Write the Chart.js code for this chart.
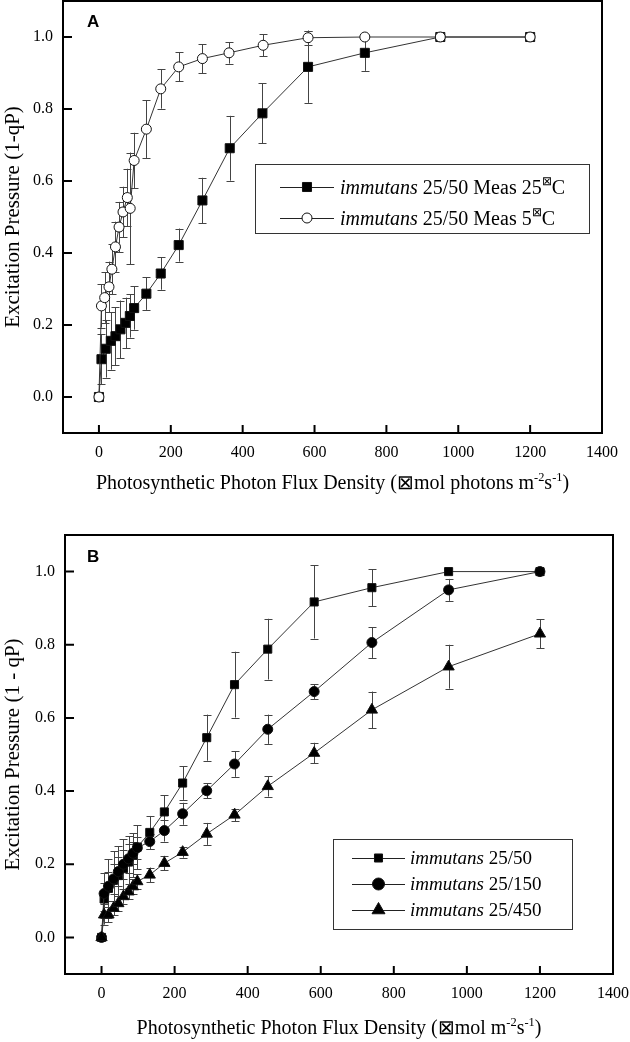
<!DOCTYPE html>
<html><head><meta charset="utf-8">
<script src="https://cdn.jsdelivr.net/npm/chart.js@4.4.1/dist/chart.umd.min.js"></script>
<style>
html,body{margin:0;padding:0;background:#fff;}
body{width:630px;height:1042px;overflow:hidden;position:relative;}
canvas{position:absolute;left:0;}
</style></head>
<body>
<canvas id="chartA" width="630" height="505" style="top:0px"></canvas>
<canvas id="chartB" width="630" height="542" style="top:500px"></canvas>
<script>
const SERIF = '"Liberation Serif", "Times New Roman", serif';
const SANS = '"Liberation Sans", Arial, sans-serif';

// ---- tick labels ----
const xTicks = [0, 200, 400, 600, 800, 1000, 1200, 1400];
const yTicks = [0.0, 0.2, 0.4, 0.6, 0.8, 1.0];

// ---- Panel A ----
const ppfdA25 = [0, 7, 19, 33, 46, 60, 74, 86, 98, 132, 172, 222, 288, 364, 455, 582, 740, 950, 1200];
const meas25 = [0, 0.105, 0.134, 0.156, 0.169, 0.188, 0.206, 0.225, 0.247, 0.287, 0.343, 0.422, 0.546, 0.691, 0.788, 0.917, 0.956, 1.0, 1.0];
const meas25Err = [0, 0.07, 0.08, 0.08, 0.08, 0.08, 0.07, 0.06, 0.06, 0.045, 0.045, 0.046, 0.063, 0.09, 0.083, 0.1, 0.05, 0, 0];
const ppfdA5 = [0, 7, 16, 28, 36, 46, 56, 67, 79, 87, 98, 132, 172, 222, 288, 362, 457, 582, 740, 950, 1200];
const meas5 = [0, 0.253, 0.276, 0.306, 0.355, 0.417, 0.472, 0.514, 0.554, 0.524, 0.657, 0.744, 0.856, 0.917, 0.94, 0.956, 0.977, 0.998, 1.0, 1.0, 1.0];
const meas5Err = [0, 0.06, 0.07, 0.07, 0.07, 0.07, 0.07, 0.07, 0.08, 0.155, 0.077, 0.08, 0.055, 0.04, 0.04, 0.03, 0.03, 0.02, 0, 0, 0];

// ---- Panel B ----
const ppfdB = [0, 7, 19, 33, 46, 60, 74, 86, 98, 132, 172, 222, 288, 364, 455, 582, 740, 950, 1200];
const g50 = [0, 0.105, 0.134, 0.156, 0.169, 0.188, 0.206, 0.225, 0.247, 0.287, 0.343, 0.422, 0.546, 0.691, 0.788, 0.917, 0.956, 1.0, 1.0];
const g50Err = [0, 0.07, 0.08, 0.08, 0.08, 0.08, 0.07, 0.06, 0.06, 0.045, 0.045, 0.046, 0.063, 0.09, 0.083, 0.1, 0.05, 0, 0];
const g150 = [0, 0.12, 0.14, 0.16, 0.18, 0.2, 0.215, 0.23, 0.245, 0.262, 0.292, 0.338, 0.401, 0.474, 0.569, 0.672, 0.806, 0.95, 1.0];
const g150Err = [0, 0.03, 0.04, 0.04, 0.04, 0.04, 0.04, 0.03, 0.03, 0.02, 0.03, 0.03, 0.02, 0.035, 0.04, 0.02, 0.042, 0.03, 0.01];
const g450 = [0, 0.062, 0.062, 0.08, 0.093, 0.112, 0.125, 0.139, 0.153, 0.171, 0.203, 0.233, 0.283, 0.335, 0.413, 0.504, 0.622, 0.74, 0.83];
const g450Err = [0, 0.01, 0.02, 0.02, 0.02, 0.02, 0.02, 0.02, 0.02, 0.02, 0.02, 0.015, 0.03, 0.017, 0.028, 0.028, 0.05, 0.06, 0.04];

function pts(xs, ys) { return xs.map((x, i) => ({ x: x, y: ys[i] })); }

function drawRich(ctx, x, y, segs, size, align) {
  const m = segs.map(s => {
    const fs = s.sup ? size * 0.62 : size;
    ctx.font = (s.it ? 'italic ' : '') + fs + 'px ' + SERIF;
    return { s: s, fs: fs, w: ctx.measureText(s.t).width };
  });
  const total = m.reduce((a, b) => a + b.w, 0);
  let cx = align === 'center' ? x - total / 2 : x;
  ctx.textAlign = 'left';
  ctx.textBaseline = 'alphabetic';
  ctx.fillStyle = '#000';
  m.forEach(o => {
    ctx.font = (o.s.it ? 'italic ' : '') + o.fs + 'px ' + SERIF;
    ctx.fillText(o.s.t, cx, y - (o.s.sup ? size * 0.42 : 0));
    cx += o.w;
  });
}

function marker(ctx, style, x, y, r, fill) {
  ctx.save();
  ctx.fillStyle = fill; ctx.strokeStyle = '#111'; ctx.lineWidth = 1;
  Chart.helpers.drawPoint(ctx, { pointStyle: style, radius: r, rotation: 0, borderWidth: 1 }, x, y);
  ctx.restore();
}

const errorBars = {
  id: 'errorBars',
  beforeDatasetsDraw(chart) {
    const ctx = chart.ctx, xs = chart.scales.x, ys = chart.scales.y;
    ctx.save();
    ctx.strokeStyle = '#444'; ctx.lineWidth = 1;
    chart.data.datasets.forEach(ds => {
      ds.data.forEach((p, i) => {
        const e = ds.err[i];
        if (!e) return;
        const px = Math.round(xs.getPixelForValue(p.x)) + 0.5;
        const t = ys.getPixelForValue(p.y + e), b = ys.getPixelForValue(p.y - e);
        ctx.beginPath();
        ctx.moveTo(px, t); ctx.lineTo(px, b);
        ctx.moveTo(px - 4, Math.round(t) + 0.5); ctx.lineTo(px + 4, Math.round(t) + 0.5);
        ctx.moveTo(px - 4, Math.round(b) + 0.5); ctx.lineTo(px + 4, Math.round(b) + 0.5);
        ctx.stroke();
      });
    });
    ctx.restore();
  }
};

const frame = {
  id: 'frame',
  afterDraw(chart, args, opts) {
    const ctx = chart.ctx, a = chart.chartArea;
    const xs = chart.scales.x, ys = chart.scales.y;
    ctx.save();
    ctx.strokeStyle = '#000'; ctx.lineWidth = 2;
    ctx.strokeRect(a.left, a.top, a.right - a.left, a.bottom - a.top);
    ctx.beginPath();
    yTicks.forEach(v => { const p = ys.getPixelForValue(v); ctx.moveTo(a.left, p); ctx.lineTo(a.left + 9, p); });
    xTicks.forEach(v => { const p = xs.getPixelForValue(v); ctx.moveTo(p, a.bottom); ctx.lineTo(p, a.bottom - 8); });
    ctx.stroke();
    // panel letter
    ctx.fillStyle = '#000';
    ctx.font = 'bold 17px ' + SANS;
    ctx.textAlign = 'left'; ctx.textBaseline = 'alphabetic';
    ctx.fillText(opts.letter, opts.letterX, opts.letterY);
    // y title
    ctx.save();
    ctx.translate(opts.yTitleX, (a.top + a.bottom) / 2);
    ctx.rotate(-Math.PI / 2);
    ctx.font = '21px ' + SERIF; ctx.textAlign = 'center'; ctx.textBaseline = 'middle';
    ctx.fillText(opts.yTitle, 0, 0);
    ctx.restore();
    // x title
    drawRich(ctx, (a.left + a.right) / 2, opts.xTitleY, opts.xTitle, 20, 'center');
    // legend
    const L = opts.legend;
    ctx.strokeStyle = '#333'; ctx.lineWidth = 1;
    ctx.strokeRect(L.x + 0.5, L.y + 0.5, L.w, L.h);
    L.rows.forEach(r => {
      ctx.strokeStyle = '#222'; ctx.lineWidth = 1;
      ctx.beginPath(); ctx.moveTo(L.lx1, r.y + 0.5); ctx.lineTo(L.lx2, r.y + 0.5); ctx.stroke();
      marker(ctx, r.style, (L.lx1 + L.lx2) / 2, r.y, r.r, r.fill);
      drawRich(ctx, L.tx, r.y + L.size * 0.33, r.text, L.size, 'left');
    });
    ctx.restore();
  }
};

function zeroPad(s) { s.paddingTop = 0; s.paddingBottom = 0; s.paddingLeft = 0; s.paddingRight = 0; }

function makeChart(id, datasets, geom, opts) {
  return new Chart(document.getElementById(id), {
    type: 'scatter',
    data: { datasets: datasets },
    options: {
      responsive: false, animation: false, devicePixelRatio: 1,
      layout: { autoPadding: false, padding: { left: 0, top: geom.top, right: geom.right, bottom: 0 } },
      plugins: { legend: { display: false }, tooltip: { enabled: false }, frame: opts },
      scales: {
        x: {
          type: 'linear', min: -100, max: 1400,
          afterBuildTicks: s => { s.ticks = xTicks.map(v => ({ value: v })); },
          afterFit: s => { s.height = geom.xh; zeroPad(s); },
          grid: { display: false, drawTicks: false },
          border: { display: false },
          ticks: { padding: 10, color: '#000', font: { family: SERIF, size: 16 }, callback: v => String(v), maxRotation: 0, autoSkip: false }
        },
        y: {
          type: 'linear', min: -0.1, max: 1.1,
          afterBuildTicks: s => { s.ticks = yTicks.map(v => ({ value: v })); },
          afterFit: s => { s.width = geom.yw; zeroPad(s); },
          grid: { display: false, drawTicks: false },
          border: { display: false },
          ticks: { padding: 10, color: '#000', font: { family: SERIF, size: 16 }, callback: v => Number(v).toFixed(1) }
        }
      }
    },
    plugins: [errorBars, frame]
  });
}

const lineStyle = { showLine: true, borderColor: '#333', borderWidth: 1, pointBorderColor: '#111', pointBorderWidth: 1 };

makeChart('chartA', [
  Object.assign({ data: pts(ppfdA5, meas5), err: meas5Err, pointStyle: 'circle', pointRadius: 5, pointBackgroundColor: '#fff' }, lineStyle),
  Object.assign({ data: pts(ppfdA25, meas25), err: meas25Err, pointStyle: 'rect', pointRadius: 6.4, pointBackgroundColor: '#000' }, lineStyle)
], { top: 1, right: 28, xh: 72, yw: 63 }, {
  letter: 'A', letterX: 87, letterY: 27, yTitle: 'Excitation Pressure (1-qP)', yTitleX: 13, xTitleY: 489,
  xTitle: [{ t: 'Photosynthetic Photon Flux Density (⊠mol photons m' }, { t: '-2', sup: true }, { t: 's' }, { t: '-1', sup: true }, { t: ')' }],
  legend: { x: 255, y: 164, w: 334, h: 69, lx1: 280, lx2: 334, tx: 340, size: 20, rows: [
    { y: 187, style: 'rect', r: 6.4, fill: '#000', text: [{ t: 'immutans', it: true }, { t: ' 25/50 Meas 25' }, { t: '⊠', sup: true }, { t: 'C' }] },
    { y: 218, style: 'circle', r: 5, fill: '#fff', text: [{ t: 'immutans', it: true }, { t: ' 25/50 Meas 5' }, { t: '⊠', sup: true }, { t: 'C' }] }
  ] }
});

makeChart('chartB', [
  Object.assign({ data: pts(ppfdB, g450), err: g450Err, pointStyle: 'triangle', pointRadius: 6.5, pointBackgroundColor: '#000' }, lineStyle),
  Object.assign({ data: pts(ppfdB, g150), err: g150Err, pointStyle: 'circle', pointRadius: 5, pointBackgroundColor: '#000' }, lineStyle),
  Object.assign({ data: pts(ppfdB, g50), err: g50Err, pointStyle: 'rect', pointRadius: 5.7, pointBackgroundColor: '#000' }, lineStyle)
], { top: 35, right: 17, xh: 68, yw: 65 }, {
  letter: 'B', letterX: 87, letterY: 62, yTitle: 'Excitation Pressure (1 - qP)', yTitleX: 13, xTitleY: 534,
  xTitle: [{ t: 'Photosynthetic Photon Flux Density (⊠mol m' }, { t: '-2', sup: true }, { t: 's' }, { t: '-1', sup: true }, { t: ')' }],
  legend: { x: 333, y: 339, w: 239, h: 90, lx1: 352, lx2: 405, tx: 410, size: 19, rows: [
    { y: 358, style: 'rect', r: 5.7, fill: '#000', text: [{ t: 'immutans', it: true }, { t: ' 25/50' }] },
    { y: 384, style: 'circle', r: 6, fill: '#000', text: [{ t: 'immutans', it: true }, { t: ' 25/150' }] },
    { y: 410, style: 'triangle', r: 7.5, fill: '#000', text: [{ t: 'immutans', it: true }, { t: ' 25/450' }] }
  ] }
});
</script>
</body></html>
